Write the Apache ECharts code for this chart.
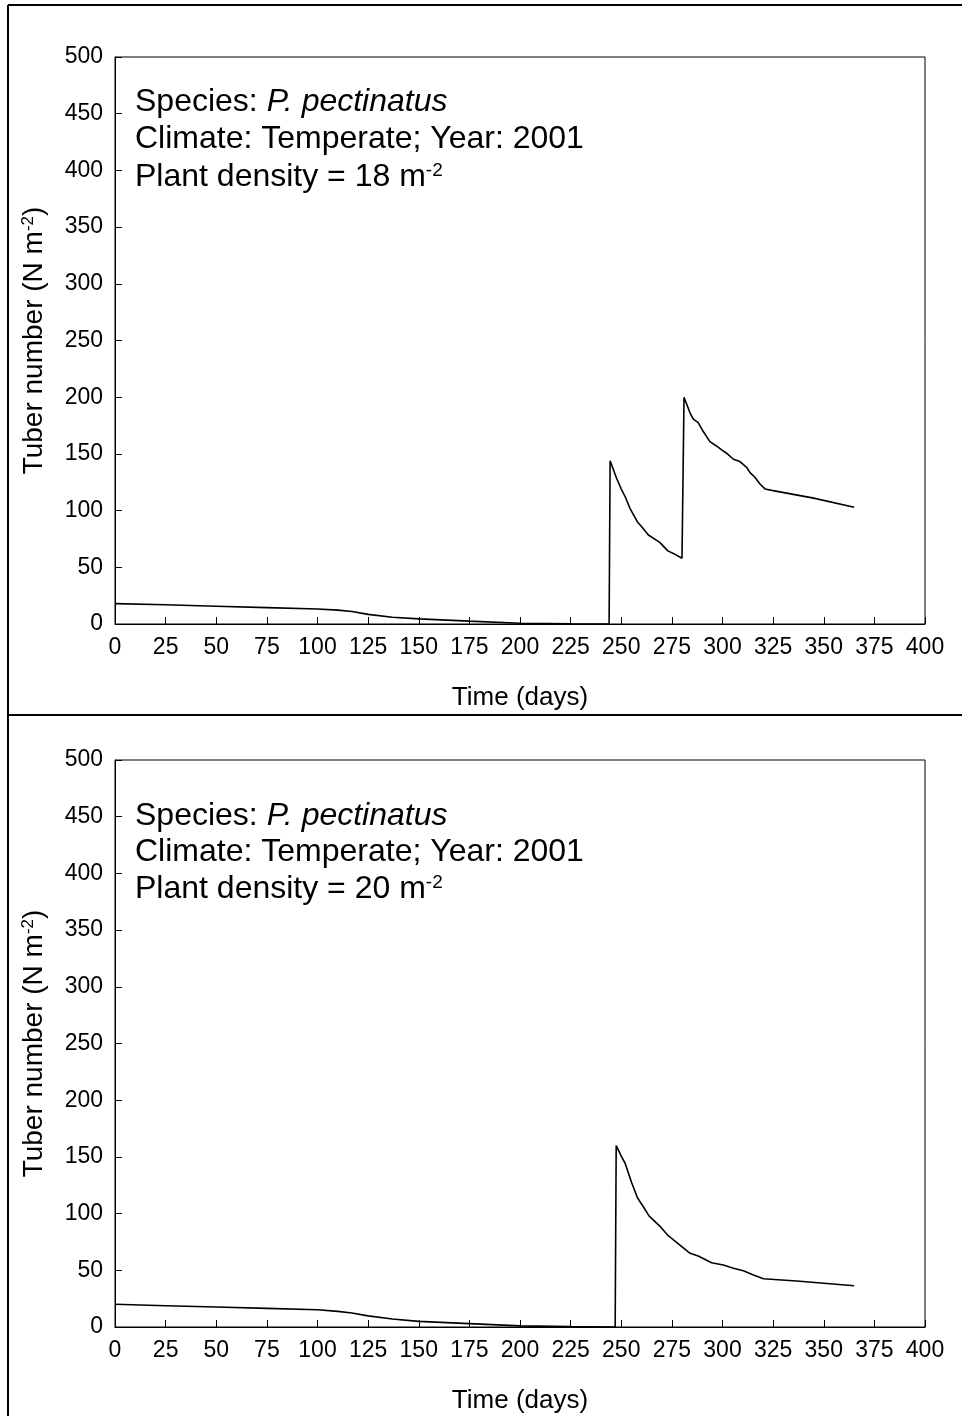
<!DOCTYPE html>
<html>
<head>
<meta charset="utf-8">
<title>Tuber number</title>
<script src="https://cdn.jsdelivr.net/npm/echarts@6/dist/echarts.min.js"></script>
<style>
  body { margin: 0; background: #fff; }
</style>
</head>
<body>
<div id="main" style="width: 962px; height: 1416px;"></div>
<script type="text/javascript">
// data (day, tubers per m2)
var dayTop = [0, 25, 50, 75, 100, 110, 117, 125, 137, 150, 175, 200, 225, 244,
  244.5, 247.7, 250, 252, 254.3, 258, 260, 263.4, 269, 273, 277, 280,
  281, 284, 285.6, 288, 290.5, 293.8, 297, 299.6, 302, 305.4, 308.6, 311.9,
  313.6, 316, 318.5, 321, 325, 345, 365];
var valTop = [18, 17, 15.7, 14.4, 13.2, 12.2, 11, 8.5, 6, 4.5, 2.5, 0.7, 0.2, 0,
  144, 128.5, 119, 112, 102, 90, 86, 78.5, 72, 64.5, 61, 58,
  200, 186, 180.6, 177.6, 169.7, 160.8, 157, 153.5, 150.6, 145.3, 143.2, 138.2,
  133.5, 129.4, 123.5, 119.1, 117.6, 111, 103];

var dayBottom = [0, 25, 50, 75, 100, 110, 117, 125, 137, 150, 175, 200, 225, 247,
  247.5, 250.2, 251.9, 255.2, 258, 260.9, 263.7, 269, 273.2, 279, 284, 288,
  294.6, 300.4, 305.4, 310.3, 315.3, 320.2, 336.6, 365];
var valBottom = [20, 18.8, 17.6, 16.4, 15.2, 13.8, 12.3, 9.8, 7, 5, 3, 1, 0.3, 0,
  160, 150, 144.4, 127, 114, 106, 98, 89, 80.5, 72.3, 65, 62.6,
  56.7, 54.7, 51.8, 49.6, 45.9, 42.6, 40.6, 36.4];

var densities = [18, 20];
var xName = 'Time (days)';
var yName = 'Tuber number (N m{s|-2})';

var FONT = 'Liberation Sans, Arial, sans-serif';

function pairs(xs, ys) {
    var out = [];
    for (var i = 0; i < xs.length; i++) {
        out.push([xs[i], ys[i]]);
    }
    return out;
}

function xAxisFor(idx) {
    return {
        type: 'value', gridIndex: idx, min: 0, max: 400, interval: 25,
        name: xName, nameLocation: 'middle', nameGap: 61,
        nameTextStyle: { fontFamily: FONT, fontSize: 26, color: '#000' },
        axisLine: { show: true, lineStyle: { color: '#000', width: 1 } },
        axisTick: { show: true, inside: true, length: 7, lineStyle: { color: '#000' } },
        axisLabel: { fontFamily: FONT, fontSize: 23, color: '#000', margin: 12 },
        splitLine: { show: false }
    };
}

function yAxisFor(idx) {
    return {
        type: 'value', gridIndex: idx, min: 0, max: 500, interval: 50,
        name: yName, nameLocation: 'middle', nameGap: 66, nameRotate: 90,
        nameTextStyle: {
            fontFamily: FONT, fontSize: 28, color: '#000',
            rich: { s: { fontFamily: FONT, fontSize: 17, color: '#000', verticalAlign: 'top', padding: [0, 0, 12, 0] } }
        },
        axisLine: { show: true, lineStyle: { color: '#000', width: 1 } },
        axisTick: { show: true, inside: true, length: 7, lineStyle: { color: '#000' } },
        axisLabel: { fontFamily: FONT, fontSize: 23, color: '#000', margin: 12 },
        splitLine: { show: false }
    };
}

function note(top, text) {
    return {
        type: 'text', left: 135, top: top,
        style: {
            text: text,
            font: '32px ' + FONT,
            fill: '#000',
            rich: {
                i: { fontFamily: FONT, fontSize: 32, fontStyle: 'italic', fill: '#000' },
                s: { fontFamily: FONT, fontSize: 19, fill: '#000', verticalAlign: 'top', padding: [0, 0, 14, 0] }
            }
        }
    };
}

function frameLine(x1, y1, x2, y2) {
    return { type: 'line', shape: { x1: x1, y1: y1, x2: x2, y2: y2 }, style: { stroke: '#000', lineWidth: 2 } };
}

var myChart = echarts.init(document.getElementById('main'));

var option = {
    backgroundColor: '#fff',
    animation: false,
    grid: [
        { left: 115, top: 57, width: 810, height: 567, show: true, borderColor: '#000', borderWidth: 1, backgroundColor: 'transparent' },
        { left: 115, top: 760, width: 810, height: 567, show: true, borderColor: '#000', borderWidth: 1, backgroundColor: 'transparent' }
    ],
    xAxis: [xAxisFor(0), xAxisFor(1)],
    yAxis: [yAxisFor(0), yAxisFor(1)],
    graphic: [
        frameLine(8, 5, 962, 5),
        frameLine(8, 5, 8, 1416),
        frameLine(8, 715, 962, 715),
        note(86, 'Species: {i|P. pectinatus}'),
        note(123, 'Climate: Temperate; Year: 2001'),
        note(161, 'Plant density = ' + densities[0] + ' m{s|-2}'),
        note(800, 'Species: {i|P. pectinatus}'),
        note(836, 'Climate: Temperate; Year: 2001'),
        note(873, 'Plant density = ' + densities[1] + ' m{s|-2}')
    ],
    series: [
        {
            type: 'line', xAxisIndex: 0, yAxisIndex: 0,
            data: pairs(dayTop, valTop),
            showSymbol: false, smooth: false,
            lineStyle: { color: '#000', width: 1.6 }
        },
        {
            type: 'line', xAxisIndex: 1, yAxisIndex: 1,
            data: pairs(dayBottom, valBottom),
            showSymbol: false, smooth: false,
            lineStyle: { color: '#000', width: 1.6 }
        }
    ]
};

myChart.setOption(option);
</script>
</body>
</html>
